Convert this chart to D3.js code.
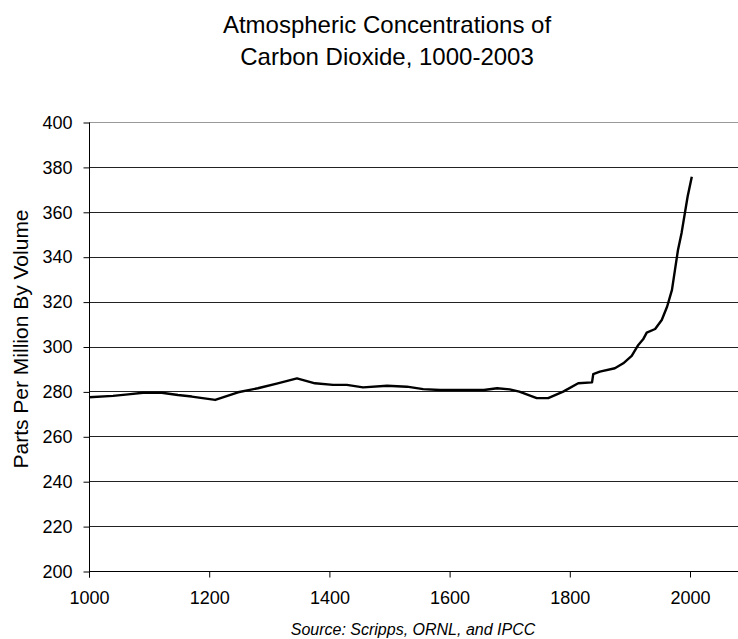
<!DOCTYPE html>
<html>
<head>
<meta charset="utf-8">
<script src="https://cdn.jsdelivr.net/npm/d3@7"></script>
<style>
  body { margin: 0; background: #fff; }
  svg { display: block; font-family: "Liberation Sans", Arial, sans-serif; }
</style>
</head>
<body>
<div id="chart"></div>
<script>
'use strict';

// values
var titleLines = ['Atmospheric Concentrations of', 'Carbon Dioxide, 1000-2003'];
var yLabel = 'Parts Per Million By Volume';
var sourceNote = 'Source: Scripps, ORNL, and IPCC';

var years = [1000, 1040, 1065, 1090, 1121, 1148, 1171, 1210, 1248, 1281,
    1314, 1346, 1376, 1406, 1429, 1456, 1496, 1529, 1556, 1584,
    1657, 1679, 1700, 1716, 1745, 1764, 1789, 1814, 1837, 1839,
    1850, 1875, 1889, 1903, 1914, 1922, 1928, 1942, 1953, 1962,
    1970, 1975, 1980, 1986, 1996, 2003];
var ppm = [277.4, 278, 278.7, 279.4, 279.4, 278.4, 277.7, 276.2, 279.6, 281.4,
    283.6, 285.8, 283.6, 282.9, 282.9, 281.8, 282.5, 282.1, 281, 280.6,
    280.6, 281.4, 280.9, 279.9, 277, 277, 279.9, 283.6, 284, 287.7,
    288.8, 290.3, 292.5, 295.8, 300.7, 303.2, 306.2, 307.8, 311.8, 317.8,
    325.2, 334.1, 343, 350.6, 366.7, 375.6];

var xTicks = [1000, 1200, 1400, 1600, 1800, 2000];
var yTicks = [200, 220, 240, 260, 280, 300, 320, 340, 360, 380, 400];

var drawChart = (function() {
    var width = 738, height = 639;
    var plotLeft = 89, plotTop = 122, plotBottom = 571;

    var svg = d3.select('#chart').append('svg')
        .attr('width', width)
        .attr('height', height);

    var x = d3.scaleLinear().domain([1000, 2100]).range([plotLeft, plotLeft + 1.1 * 601]);
    var y = d3.scaleLinear().domain([200, 400]).range([plotBottom, plotTop]);

    // title
    svg.append('g').selectAll('text')
        .data(titleLines)
        .enter().append('text')
        .attr('x', 387)
        .attr('y', function(d, i) { return 33 + i * 32; })
        .attr('text-anchor', 'middle')
        .style('font-size', '24px')
        .attr('fill', '#000')
        .text(function(d) { return d; });

    // gridlines
    svg.append('g').selectAll('line')
        .data(yTicks.filter(function(d) { return d > 200; }))
        .enter().append('line')
        .attr('x1', plotLeft).attr('x2', width)
        .attr('y1', function(d) { return Math.round(y(d)) + 0.5; })
        .attr('y2', function(d) { return Math.round(y(d)) + 0.5; })
        .attr('stroke', function(d) { return d === 400 ? '#999' : '#222'; })
        .attr('stroke-width', 1);

    // axes
    var yAxis = d3.axisLeft(y).tickValues(yTicks).tickSize(6).tickPadding(11);
    var xAxis = d3.axisBottom(x).tickValues(xTicks).tickFormat(d3.format('d'))
        .tickSize(6).tickPadding(14);

    var gy = svg.append('g')
        .attr('transform', 'translate(' + (plotLeft + 0.5) + ',0.5)')
        .call(yAxis);
    var gx = svg.append('g')
        .attr('transform', 'translate(0,' + (Math.round(plotBottom) + 0.5) + ')')
        .call(xAxis);

    gy.select('.domain').attr('d', 'M0,' + Math.round(plotTop) + 'V' + Math.round(plotBottom + 6));
    gx.select('.domain').attr('d', 'M' + plotLeft + ',0H' + width);
    [gx, gy].forEach(function(g) {
        g.selectAll('.domain, .tick line').attr('stroke', '#000');
        g.selectAll('text')
            .style('font-family', '"Liberation Sans", Arial, sans-serif')
            .style('font-size', '18px')
            .attr('fill', '#000');
    });
    gx.selectAll('.tick text').attr('dy', '0.71em');

    // CO2 line
    var line = d3.line()
        .x(function(d) { return x(d[0]); })
        .y(function(d) { return y(d[1]); });

    svg.append('path')
        .datum(d3.zip(years, ppm))
        .attr('d', line)
        .attr('fill', 'none')
        .attr('stroke', '#000')
        .attr('stroke-width', 2.4)
        .attr('stroke-linejoin', 'round');

    // y-axis title
    svg.append('text')
        .attr('transform', 'translate(28,339) rotate(-90)')
        .attr('text-anchor', 'middle')
        .style('font-size', '21px')
        .attr('fill', '#000')
        .text(yLabel);

    // source note
    svg.append('text')
        .attr('x', 413)
        .attr('y', 635)
        .attr('text-anchor', 'middle')
        .style('font-size', '16px')
        .style('font-style', 'italic')
        .attr('fill', '#000')
        .text(sourceNote);
})();
</script>
</body>
</html>
